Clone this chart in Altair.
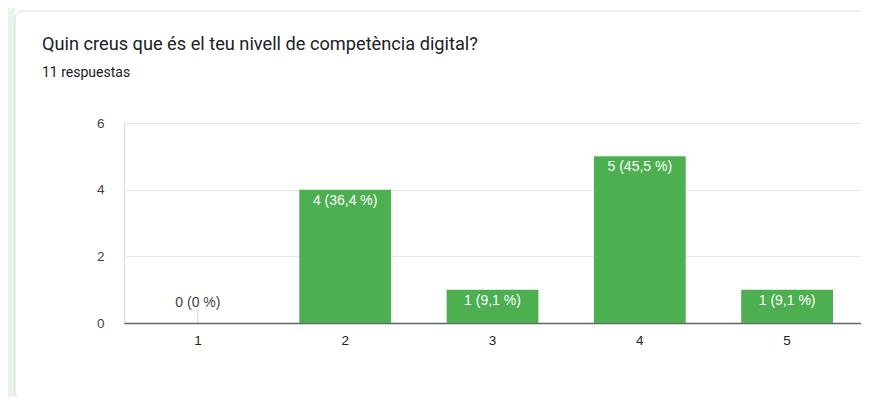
import altair as alt
import pandas as pd

categories = ["1", "2", "3", "4", "5"]
counts = [0, 4, 1, 5, 1]
labels = ["0 (0 %)", "4 (36,4 %)", "1 (9,1 %)", "5 (45,5 %)", "1 (9,1 %)"]
y_ticks = [0, 1, 2, 3, 4, 5, 6]
title_text = "Quin creus que és el teu nivell de competència digital?"
subtitle_text = "11 respuestas"

df = pd.DataFrame({"cat": categories, "n": counts, "label": labels})
one = pd.DataFrame({"k": [0]})

W, H = 737, 200
FONT = "Liberation Sans"

xenc = alt.X("cat:N", sort=categories, title=None,
             scale=alt.Scale(paddingInner=0.377, paddingOuter=0.19),
             axis=alt.Axis(labelAngle=0, ticks=False, labelPadding=10,
                           domainColor="#5f6368", domainWidth=1.5,
                           labelColor="#222222", labelFontSize=13.5, labelFont=FONT))
yenc = alt.Y("n:Q", title=None,
             scale=alt.Scale(domain=[0, 6], nice=False),
             axis=alt.Axis(values=y_ticks, ticks=False, domain=False,
                           labelExpr="datum.value % 2 === 0 ? datum.label : ''",
                           labelPadding=20, labelColor="#444444", labelFontSize=13.5,
                           labelFont=FONT,
                           gridColor={"condition": {"test": "datum.value % 2 === 1", "value": "#f4f4f4"},
                                      "value": "#e8e8e8"}))

# decorative card (not data)
card_strip = alt.Chart(one).mark_rect(color="#e6f4ea").encode(
    x=alt.value(-116), x2=alt.value(-109), y=alt.value(-120), y2=alt.value(300))
card = alt.Chart(one).mark_rect(fill="transparent", stroke="#dadce0", strokeWidth=1, cornerRadius=8).encode(
    x=alt.value(-109), x2=alt.value(760), y=alt.value(-112), y2=alt.value(277))

title = alt.Chart(one).mark_text(
    align="left", baseline="middle", font="Roboto", fontSize=18.2, color="#202124").encode(
    x=alt.value(-82), y=alt.value(-78), text=alt.value(title_text))
subtitle = alt.Chart(one).mark_text(
    align="left", baseline="middle", font="Roboto", fontSize=14, color="#202124").encode(
    x=alt.value(-82), y=alt.value(-50), text=alt.value(subtitle_text))

base = alt.Chart(df)
bars = base.mark_bar(color="#4caf50").encode(x=xenc, y=yenc)
zero_tick = base.transform_filter("datum.n === 0").mark_tick(
    orient="vertical", color="#bdbdbd", thickness=1, size=13, yOffset=-6.5).encode(
    x=alt.X("cat:N", sort=categories), y="n:Q")
in_labels = base.transform_filter("datum.n > 0").mark_text(
    color="white", fontSize=14, font=FONT, baseline="middle", dy=11).encode(
    x=alt.X("cat:N", sort=categories), y="n:Q", text="label:N")
zero_labels = base.transform_filter("datum.n === 0").mark_text(
    color="#444444", fontSize=14, font=FONT, baseline="middle", dy=-20).encode(
    x=alt.X("cat:N", sort=categories), y="n:Q", text="label:N")

chart = alt.layer(card_strip, card, title, subtitle, bars, zero_tick, in_labels, zero_labels).properties(
    width=W, height=H,
    padding={"left": 116, "top": 115, "right": 0, "bottom": 74},
    autosize=alt.AutoSizeParams(type="none"),
).configure_view(stroke=None).configure(background="white")

chart.save("out.html", embed_options={"renderer": "svg", "actions": False})
